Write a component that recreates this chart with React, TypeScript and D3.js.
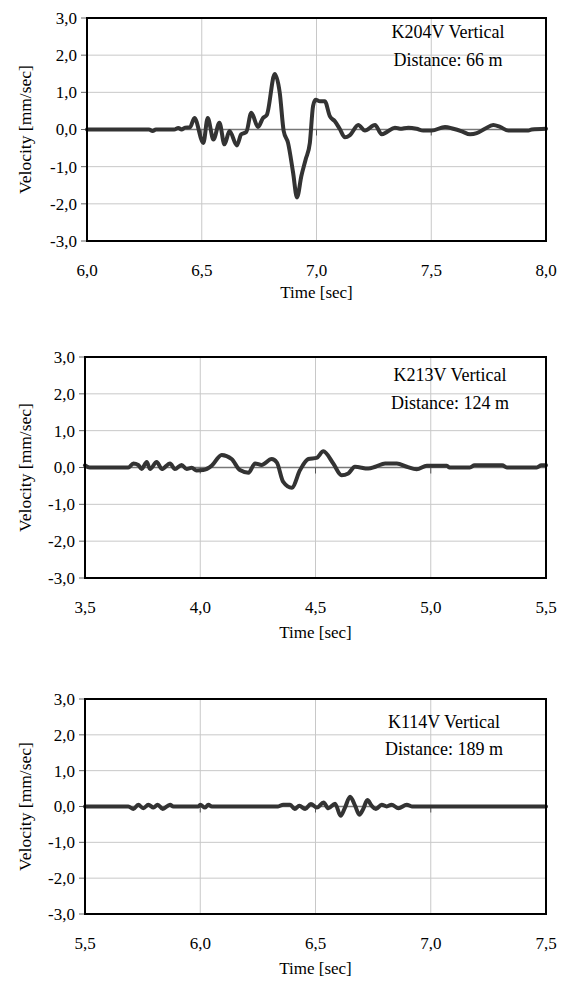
import React from "react";
import * as d3 from "d3";

const yTicks = [-3, -2, -1, 0, 1, 2, 3];

const k204Time = [6.0, 6.27, 6.286, 6.3, 6.38, 6.398, 6.412, 6.427, 6.449, 6.468, 6.507, 6.526, 6.551, 6.577, 6.599, 6.621, 6.653, 6.672, 6.694, 6.716, 6.745, 6.767, 6.784, 6.818, 6.84, 6.857, 6.876, 6.898, 6.915, 6.934, 6.953, 6.971, 6.985, 6.996, 7.015, 7.036, 7.058, 7.08, 7.101, 7.124, 7.146, 7.182, 7.211, 7.255, 7.284, 7.306, 7.342, 7.364, 7.4, 7.436, 7.465, 7.502, 7.56, 7.596, 7.633, 7.669, 7.698, 7.734, 7.77, 7.8, 7.836, 7.923, 7.938, 8.0];
const k204Vel = [0, 0, -0.04, 0, 0, 0.04, 0, 0.05, 0.06, 0.31, -0.36, 0.31, -0.27, 0.18, -0.4, -0.04, -0.43, -0.13, -0.07, 0.45, 0.07, 0.31, 0.4, 1.49, 0.98, -0.04, -0.36, -1.16, -1.83, -1.25, -0.8, -0.36, 0.63, 0.8, 0.76, 0.76, 0.36, 0.22, 0.02, -0.21, -0.15, 0.12, -0.03, 0.12, -0.13, -0.07, 0.05, 0.02, 0.05, 0.02, -0.03, -0.03, 0.07, 0.02, -0.05, -0.13, -0.1, 0.02, 0.12, 0.07, -0.03, -0.03, 0, 0.02];

const k213Time = [3.5, 3.52, 3.688, 3.71, 3.731, 3.746, 3.768, 3.782, 3.811, 3.833, 3.869, 3.89, 3.919, 3.941, 3.963, 3.984, 4.013, 4.05, 4.093, 4.136, 4.172, 4.209, 4.238, 4.266, 4.31, 4.332, 4.36, 4.397, 4.433, 4.469, 4.505, 4.534, 4.577, 4.613, 4.642, 4.671, 4.729, 4.76, 4.802, 4.853, 4.896, 4.939, 4.983, 5.07, 5.08, 5.17, 5.19, 5.31, 5.33, 5.46, 5.48, 5.5];
const k213Vel = [0.06, 0, 0, 0.11, 0.07, -0.04, 0.15, -0.04, 0.15, -0.04, 0.11, -0.04, 0.07, -0.04, -0.01, -0.08, -0.07, 0.05, 0.34, 0.23, -0.07, -0.14, 0.11, 0.07, 0.23, 0.14, -0.39, -0.55, -0.07, 0.23, 0.26, 0.44, 0.11, -0.21, -0.16, 0.02, -0.03, 0.02, 0.11, 0.11, 0.02, -0.05, 0.05, 0.05, 0, 0, 0.06, 0.06, 0, 0, 0.06, 0.06];

const k114Time = [5.5, 5.688, 5.71, 5.731, 5.753, 5.775, 5.797, 5.815, 5.837, 5.869, 5.883, 5.992, 6.0, 6.021, 6.035, 6.05, 6.338, 6.36, 6.39, 6.41, 6.43, 6.455, 6.48, 6.506, 6.535, 6.556, 6.585, 6.609, 6.628, 6.65, 6.672, 6.69, 6.707, 6.725, 6.744, 6.762, 6.787, 6.809, 6.83, 6.86, 6.896, 6.918, 7.5];
const k114Vel = [0, 0, -0.07, 0.05, -0.05, 0.05, -0.03, 0.05, -0.07, 0.05, 0, 0, 0.05, -0.03, 0.05, 0, 0, 0.05, 0.05, -0.07, 0.02, -0.07, 0.07, -0.03, 0.11, -0.05, 0.08, -0.26, -0.03, 0.27, 0.02, -0.23, -0.07, 0.18, 0.02, -0.07, 0.05, 0, 0.05, -0.05, 0.05, 0, 0];

const xTicks1 = [6.0, 6.5, 7.0, 7.5, 8.0];
const xTicks2 = [3.5, 4.0, 4.5, 5.0, 5.5];
const xTicks3 = [5.5, 6.0, 6.5, 7.0, 7.5];

const titles = ["K204V Vertical", "K213V Vertical", "K114V Vertical"];
const distances = ["Distance: 66 m", "Distance: 124 m", "Distance: 189 m"];

const FONT = "Liberation Serif";
const fmt = (v: number) => v.toFixed(1).replace(".", ",");

type PanelProps = {
  time: number[];
  vel: number[];
  xTicks: number[];
  title: string;
  dist: string;
  left: number;
  right: number;
  top: number;
  bottom: number;
  tickLabelDy: number;
  axisTitleDy: number;
  annoDy1: number;
  annoDy2: number;
  annoX: number;
};

function Panel(p: PanelProps) {
  const x = d3.scaleLinear().domain([p.xTicks[0], p.xTicks[p.xTicks.length - 1]]).range([p.left, p.right]);
  const y = d3.scaleLinear().domain([-3, 3]).range([p.bottom, p.top]);
  const pts: [number, number][] = p.time.map((t, i) => [t, p.vel[i]]);
  const line = d3
    .line<[number, number]>()
    .x((d) => x(d[0]))
    .y((d) => y(d[1]))
    .curve(d3.curveMonotoneX);
  const midY = (p.top + p.bottom) / 2;
  return (
    <g>
      {yTicks
        .filter((t) => t !== -3 && t !== 3 && t !== 0)
        .map((t) => (
          <line key={"gy" + t} x1={p.left} x2={p.right} y1={y(t)} y2={y(t)} stroke="#c8c8c8" strokeWidth={1} />
        ))}
      {p.xTicks.slice(1, -1).map((t) => (
        <line key={"gx" + t} x1={x(t)} x2={x(t)} y1={p.top} y2={p.bottom} stroke="#c8c8c8" strokeWidth={1} />
      ))}
      <line x1={p.left} x2={p.right} y1={y(0)} y2={y(0)} stroke="#777" strokeWidth={1.5} />
      {p.xTicks.slice(1, -1).map((t) => (
        <line key={"tx" + t} x1={x(t)} x2={x(t)} y1={y(0)} y2={y(0) + 6} stroke="#555" strokeWidth={1} />
      ))}
      {yTicks.map((t) => (
        <line key={"ty" + t} x1={p.left - 6} x2={p.left} y1={y(t)} y2={y(t)} stroke="#666" strokeWidth={1} />
      ))}
      <path d={line(pts) || ""} fill="none" stroke="#333" strokeWidth={4} strokeLinejoin="round" strokeLinecap="round" />
      <rect x={p.left} y={p.top} width={p.right - p.left} height={p.bottom - p.top} fill="none" stroke="#000" strokeWidth={2} />
      {yTicks.map((t) => (
        <text key={"ly" + t} x={p.left - 10} y={y(t)} dy="0.35em" textAnchor="end" fontSize={17} fontFamily={FONT} fill="#000">
          {fmt(t)}
        </text>
      ))}
      {p.xTicks.map((t) => (
        <text key={"lx" + t} x={x(t)} y={p.bottom + p.tickLabelDy} dy="0.35em" textAnchor="middle" fontSize={17} fontFamily={FONT} fill="#000">
          {fmt(t)}
        </text>
      ))}
      <text x={(p.left + p.right) / 2} y={p.bottom + p.axisTitleDy} dy="0.35em" textAnchor="middle" fontSize={17} fontFamily={FONT} fill="#000">
        Time [sec]
      </text>
      <text transform={`translate(25,${midY}) rotate(-90)`} dy="0.35em" textAnchor="middle" fontSize={17.5} fontFamily={FONT} fill="#000">
        Velocity [mm/sec]
      </text>
      <text x={p.annoX} y={p.top + p.annoDy1} dy="0.35em" textAnchor="middle" fontSize={18} fontFamily={FONT} fill="#000">
        {p.title}
      </text>
      <text x={p.annoX} y={p.top + p.annoDy2} dy="0.35em" textAnchor="middle" fontSize={18} fontFamily={FONT} fill="#000">
        {p.dist}
      </text>
    </g>
  );
}

export default function App() {
  return (
    <svg width={565} height={985} style={{ position: "absolute", left: 0, top: 0, background: "#fff" }}>
      <rect width={565} height={985} fill="#fff" />
      <Panel time={k204Time} vel={k204Vel} xTicks={xTicks1} title={titles[0]} dist={distances[0]}
        left={87} right={546} top={18} bottom={241} tickLabelDy={29} axisTitleDy={51} annoDy1={14} annoDy2={42} annoX={448} />
      <Panel time={k213Time} vel={k213Vel} xTicks={xTicks2} title={titles[1]} dist={distances[1]}
        left={85} right={546} top={357} bottom={578} tickLabelDy={29} axisTitleDy={54} annoDy1={18} annoDy2={46} annoX={450} />
      <Panel time={k114Time} vel={k114Vel} xTicks={xTicks3} title={titles[2]} dist={distances[2]}
        left={85} right={546} top={699} bottom={914} tickLabelDy={29} axisTitleDy={54} annoDy1={23} annoDy2={50} annoX={444} />
    </svg>
  );
}
